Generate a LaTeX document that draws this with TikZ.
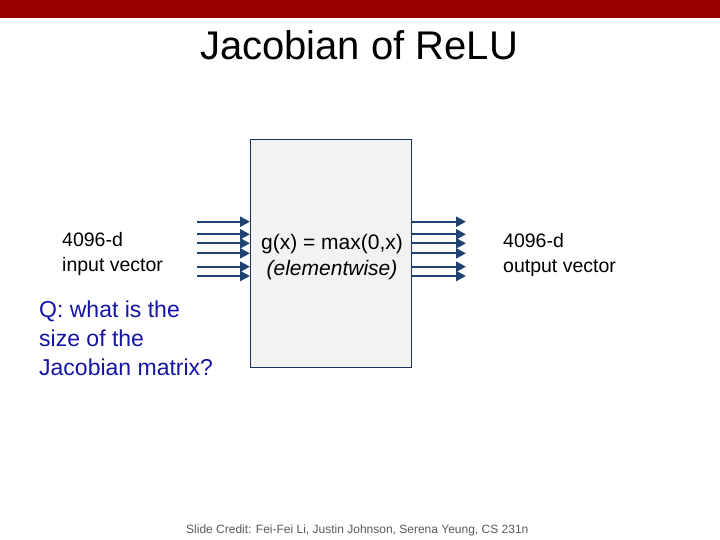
\documentclass[tikz,border=0pt]{standalone}
\usepackage{fontspec}
\setmainfont{Liberation Sans}
\usetikzlibrary{arrows.meta}
\definecolor{slidered}{RGB}{153,0,0}
\definecolor{vecblue}{RGB}{31,66,112}
\definecolor{boxgray}{RGB}{242,242,242}
\definecolor{qblue}{RGB}{20,20,165}
\definecolor{creditgray}{RGB}{89,89,89}

\begin{document}
\begin{tikzpicture}[x=1pt,y=-1pt,
	vec/.style={line width=2.3pt,vecblue,-{Triangle[length=10pt,width=10pt]}},
	label/.style={inner sep=0pt,anchor=base west,align=left,font=\fontsize{19.5}{25}\selectfont}]

	% Fix the page size
	\useasboundingbox (0,0) rectangle (720,540);

	% Draw the red bar on top
	\fill[slidered] (0,0) rectangle (720,18);

	% Draw the title
	\node[inner sep=0pt,anchor=base,font=\fontsize{40}{48}\selectfont] (title) at (359,60) {Jacobian of ReLU};

	% Draw the ReLU box
	\node[draw=vecblue!80!black,fill=boxgray,line width=1pt,minimum width=161pt,minimum height=228pt,anchor=north west,inner sep=0pt] (relu) at (250,139) {};
	\node[inner sep=0pt,anchor=base,align=center,font=\fontsize{21}{26}\selectfont] (gx) at (332,275) {g(x) = max(0,x)\\\textit{(elementwise)}};

	% Draw the input and output vectors
	\foreach \y [count=\i] in {221.7,234.3,243.3,253.3,266.7,276} {
		\coordinate (in\i) at (197,\y);
		\coordinate (out\i) at (466,\y);
		\draw[vec] (in\i) -- (in\i -| relu.west);
		\draw[vec] (out\i -| relu.east) -- (out\i);
	}

	% Label the vectors (base is the last line)
	\node[label] (inlabel) at (62,271.5) {4096-d\\input vector};
	\node[label] (outlabel) at (503,272.5) {4096-d\\output vector};

	% Draw the question
	\node[label,qblue,font=\fontsize{23}{29}\selectfont] (question) at (39,375) {Q: what is the\\size of the\\Jacobian matrix?};

	% Draw the slide credit
	\node[inner sep=0pt,anchor=base west,creditgray,font=\fontsize{12}{14}\selectfont] (credit) at (186,533) {Slide Credit: Fei-Fei Li, Justin Johnson, Serena Yeung, CS 231n};

\end{tikzpicture}
\end{document}
